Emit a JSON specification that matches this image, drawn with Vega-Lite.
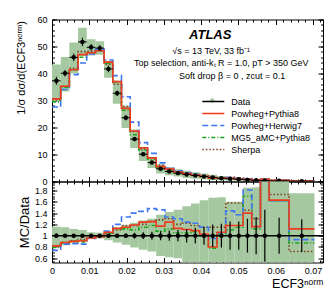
{
"$schema": "https://vega.github.io/schema/vega-lite/v6.json",
"padding": {"left": 14, "top": 14.5, "right": 2, "bottom": 2},
"spacing": 0,
"bounds": "flush",
"config": {
  "view": {"stroke": "#000", "strokeWidth": 1},
  "font": "Liberation Sans",
  "axis": {"grid": false, "domain": false, "labelFont": "Liberation Sans", "labelFontSize": 9, "labelColor": "#000", "tickColor": "#000", "tickWidth": 1, "titleFont": "Liberation Sans", "titleColor": "#000", "titleFontWeight": "normal", "labelFlush": false},
  "text": {"font": "Liberation Sans", "color": "#000"}
},
"datasets": {
  "bins": [
    {"x0": 0, "x1": 0.00233, "xc": 0.00117, "d": 37.3, "elo": 35.8, "ehi": 38.8, "lo": 29.8, "hi": 43.3, "rlo": 0.80, "rhi": 1.16, "slo": 0.96, "shi": 1.04},
    {"x0": 0.00233, "x1": 0.00466, "xc": 0.0035, "d": 40.1, "elo": 38.9, "ehi": 41.3, "lo": 33.3, "hi": 46.1, "rlo": 0.83, "rhi": 1.15, "slo": 0.97, "shi": 1.03},
    {"x0": 0.00466, "x1": 0.00699, "xc": 0.00583, "d": 46.0, "elo": 44.6, "ehi": 47.4, "lo": 40.0, "hi": 51.5, "rlo": 0.87, "rhi": 1.12, "slo": 0.97, "shi": 1.03},
    {"x0": 0.00699, "x1": 0.00932, "xc": 0.00816, "d": 51.7, "elo": 50.15, "ehi": 53.25, "lo": 46.5, "hi": 56.9, "rlo": 0.90, "rhi": 1.10, "slo": 0.97, "shi": 1.03},
    {"x0": 0.00932, "x1": 0.01165, "xc": 0.01049, "d": 49.7, "elo": 48.5, "ehi": 50.9, "lo": 46.7, "hi": 52.7, "rlo": 0.94, "rhi": 1.06, "slo": 0.976, "shi": 1.024},
    {"x0": 0.01165, "x1": 0.01398, "xc": 0.01282, "d": 49.4, "elo": 48.3, "ehi": 50.5, "lo": 46.9, "hi": 51.9, "rlo": 0.95, "rhi": 1.05, "slo": 0.978, "shi": 1.022},
    {"x0": 0.01398, "x1": 0.01631, "xc": 0.01515, "d": 41.7, "elo": 40.45, "ehi": 42.95, "lo": 38.4, "hi": 44.6, "rlo": 0.92, "rhi": 1.07, "slo": 0.97, "shi": 1.03},
    {"x0": 0.01631, "x1": 0.01864, "xc": 0.01748, "d": 32.7, "elo": 31.7, "ehi": 33.7, "lo": 28.8, "hi": 37.0, "rlo": 0.88, "rhi": 1.13, "slo": 0.969, "shi": 1.031},
    {"x0": 0.01864, "x1": 0.02097, "xc": 0.01981, "d": 23.6, "elo": 22.65, "ehi": 24.55, "lo": 19.8, "hi": 28.1, "rlo": 0.84, "rhi": 1.19, "slo": 0.96, "shi": 1.04},
    {"x0": 0.02097, "x1": 0.0233, "xc": 0.02214, "d": 15.7, "elo": 14.9, "ehi": 16.5, "lo": 12.4, "hi": 19.3, "rlo": 0.79, "rhi": 1.23, "slo": 0.95, "shi": 1.05},
    {"x0": 0.0233, "x1": 0.02563, "xc": 0.02447, "d": 10.1, "elo": 9.5, "ehi": 10.7, "lo": 7.6, "hi": 12.8, "rlo": 0.75, "rhi": 1.27, "slo": 0.94, "shi": 1.06},
    {"x0": 0.02563, "x1": 0.02796, "xc": 0.0268, "d": 7.0, "elo": 6.5, "ehi": 7.5, "lo": 5.0, "hi": 9.1, "rlo": 0.72, "rhi": 1.30, "slo": 0.93, "shi": 1.07},
    {"x0": 0.02796, "x1": 0.03029, "xc": 0.02913, "d": 4.7, "elo": 4.32, "ehi": 5.08, "lo": 3.0, "hi": 6.4, "rlo": 0.64, "rhi": 1.37, "slo": 0.92, "shi": 1.08},
    {"x0": 0.03029, "x1": 0.03262, "xc": 0.03146, "d": 3.7, "elo": 3.37, "ehi": 4.03, "lo": 2.3, "hi": 5.25, "rlo": 0.62, "rhi": 1.42, "slo": 0.91, "shi": 1.09},
    {"x0": 0.03262, "x1": 0.03495, "xc": 0.03379, "d": 3.1, "elo": 2.79, "ehi": 3.41, "lo": 1.85, "hi": 4.5, "rlo": 0.60, "rhi": 1.46, "slo": 0.90, "shi": 1.10},
    {"x0": 0.03495, "x1": 0.03728, "xc": 0.03612, "d": 2.6, "elo": 2.29, "ehi": 2.91, "lo": 1.3, "hi": 3.95, "rlo": 0.50, "rhi": 1.52, "slo": 0.88, "shi": 1.12},
    {"x0": 0.03728, "x1": 0.03961, "xc": 0.03845, "d": 2.2, "elo": 1.89, "ehi": 2.51, "lo": 1.0, "hi": 3.45, "rlo": 0.45, "rhi": 1.57, "slo": 0.86, "shi": 1.14},
    {"x0": 0.03961, "x1": 0.04194, "xc": 0.04078, "d": 1.85, "elo": 1.55, "ehi": 2.15, "lo": 0.8, "hi": 3.0, "rlo": 0.42, "rhi": 1.63, "slo": 0.84, "shi": 1.16},
    {"x0": 0.04194, "x1": 0.04427, "xc": 0.04311, "d": 1.5, "elo": 1.2, "ehi": 1.8, "lo": 0.6, "hi": 2.5, "rlo": 0.40, "rhi": 1.67, "slo": 0.80, "shi": 1.20},
    {"x0": 0.04427, "x1": 0.0466, "xc": 0.04544, "d": 1.2, "elo": 0.95, "ehi": 1.45, "lo": 0.5, "hi": 2.0, "rlo": 0.40, "rhi": 1.68, "slo": 0.79, "shi": 1.21},
    {"x0": 0.0466, "x1": 0.04893, "xc": 0.04777, "d": 1.0, "elo": 0.75, "ehi": 1.25, "lo": 0.4, "hi": 1.6, "rlo": 0.40, "rhi": 1.60, "slo": 0.75, "shi": 1.25},
    {"x0": 0.04893, "x1": 0.05126, "xc": 0.0501, "d": 0.8, "elo": 0.6, "ehi": 1.0, "lo": 0.3, "hi": 1.28, "rlo": 0.40, "rhi": 1.60, "slo": 0.75, "shi": 1.25},
    {"x0": 0.05126, "x1": 0.05359, "xc": 0.05243, "d": 0.6, "elo": 0.42, "ehi": 0.78, "lo": 0.24, "hi": 1.1, "rlo": 0.40, "rhi": 1.85, "slo": 0.70, "shi": 1.30},
    {"x0": 0.05359, "x1": 0.05592, "xc": 0.05476, "d": 0.45, "elo": 0.3, "ehi": 0.6, "lo": 0.14, "hi": 0.84, "rlo": 0.30, "rhi": 1.86, "slo": 0.67, "shi": 1.33},
    {"x0": 0.05592, "x1": 0.05825, "xc": 0.05709, "d": 0.35, "elo": 0.19, "ehi": 0.51, "lo": 0.07, "hi": 0.77, "rlo": 0.20, "rhi": 2.2, "slo": 0.54, "shi": 1.46},
    {"x0": 0.05825, "x1": 0.0636, "xc": 0.06093, "d": 0.25, "elo": 0.17, "ehi": 0.33, "lo": 0.05, "hi": 0.55, "rlo": 0.20, "rhi": 2.2, "slo": 0.68, "shi": 1.32},
    {"x0": 0.0636, "x1": 0.0704, "xc": 0.067, "d": 0.12, "elo": 0.085, "ehi": 0.155, "lo": 0.02, "hi": 0.21, "rlo": 0.20, "rhi": 1.75, "slo": 0.71, "shi": 1.29}
  ],
  "mc": [
    {"x": 0, "Powheg+Pythia8": 30.6, "Powheg+Herwig7": 27.6, "MG5_aMC+Pythia8": 29.5, "Sherpa": 30.2},
    {"x": 0.00233, "Powheg+Pythia8": 35.3, "Powheg+Herwig7": 34.1, "MG5_aMC+Pythia8": 34.9, "Sherpa": 35.3},
    {"x": 0.00466, "Powheg+Pythia8": 41.4, "Powheg+Herwig7": 39.6, "MG5_aMC+Pythia8": 41.4, "Sherpa": 41.9},
    {"x": 0.00699, "Powheg+Pythia8": 47.0, "Powheg+Herwig7": 43.9, "MG5_aMC+Pythia8": 46.0, "Sherpa": 48.1},
    {"x": 0.00932, "Powheg+Pythia8": 47.7, "Powheg+Herwig7": 47.2, "MG5_aMC+Pythia8": 47.7, "Sherpa": 48.2},
    {"x": 0.01165, "Powheg+Pythia8": 48.4, "Powheg+Herwig7": 49.0, "MG5_aMC+Pythia8": 48.4, "Sherpa": 48.9},
    {"x": 0.01398, "Powheg+Pythia8": 44.2, "Powheg+Herwig7": 45.0, "MG5_aMC+Pythia8": 43.8, "Sherpa": 43.4},
    {"x": 0.01631, "Powheg+Pythia8": 37.0, "Powheg+Herwig7": 39.2, "MG5_aMC+Pythia8": 37.0, "Sherpa": 36.0},
    {"x": 0.01864, "Powheg+Pythia8": 27.1, "Powheg+Herwig7": 31.4, "MG5_aMC+Pythia8": 26.4, "Sherpa": 27.8},
    {"x": 0.02097, "Powheg+Pythia8": 18.7, "Powheg+Herwig7": 22.0, "MG5_aMC+Pythia8": 17.3, "Sherpa": 18.5},
    {"x": 0.0233, "Powheg+Pythia8": 12.5, "Powheg+Herwig7": 14.4, "MG5_aMC+Pythia8": 11.6, "Sherpa": 12.1},
    {"x": 0.02563, "Powheg+Pythia8": 8.75, "Powheg+Herwig7": 10.4, "MG5_aMC+Pythia8": 8.3, "Sherpa": 8.75},
    {"x": 0.02796, "Powheg+Pythia8": 5.5, "Powheg+Herwig7": 6.9, "MG5_aMC+Pythia8": 5.1, "Sherpa": 6.0},
    {"x": 0.03029, "Powheg+Pythia8": 4.6, "Powheg+Herwig7": 4.9, "MG5_aMC+Pythia8": 4.1, "Sherpa": 4.8},
    {"x": 0.03262, "Powheg+Pythia8": 3.5, "Powheg+Herwig7": 4.0, "MG5_aMC+Pythia8": 3.3, "Sherpa": 3.7},
    {"x": 0.03495, "Powheg+Pythia8": 2.9, "Powheg+Herwig7": 3.2, "MG5_aMC+Pythia8": 2.7, "Sherpa": 3.2},
    {"x": 0.03728, "Powheg+Pythia8": 2.4, "Powheg+Herwig7": 2.7, "MG5_aMC+Pythia8": 2.35, "Sherpa": 2.6},
    {"x": 0.03961, "Powheg+Pythia8": 1.9, "Powheg+Herwig7": 2.1, "MG5_aMC+Pythia8": 1.85, "Sherpa": 2.1},
    {"x": 0.04194, "Powheg+Pythia8": 1.2, "Powheg+Herwig7": 1.4, "MG5_aMC+Pythia8": 1.17, "Sherpa": 1.7},
    {"x": 0.04427, "Powheg+Pythia8": 1.27, "Powheg+Herwig7": 1.26, "MG5_aMC+Pythia8": 1.24, "Sherpa": 1.4},
    {"x": 0.0466, "Powheg+Pythia8": 1.18, "Powheg+Herwig7": 1.44, "MG5_aMC+Pythia8": 1.1, "Sherpa": 1.58},
    {"x": 0.04893, "Powheg+Pythia8": 0.94, "Powheg+Herwig7": 1.1, "MG5_aMC+Pythia8": 0.92, "Sherpa": 1.26},
    {"x": 0.05126, "Powheg+Pythia8": 0.84, "Powheg+Herwig7": 1.09, "MG5_aMC+Pythia8": 1.02, "Sherpa": 0.87},
    {"x": 0.05359, "Powheg+Pythia8": 0.52, "Powheg+Herwig7": 0.52, "MG5_aMC+Pythia8": 0.5, "Sherpa": 0.59},
    {"x": 0.05592, "Powheg+Pythia8": 0.8, "Powheg+Herwig7": 0.8, "MG5_aMC+Pythia8": 0.8, "Sherpa": 0.8},
    {"x": 0.05825, "Powheg+Pythia8": 0.41, "Powheg+Herwig7": 0.41, "MG5_aMC+Pythia8": 0.41, "Sherpa": 0.43},
    {"x": 0.0636, "Powheg+Pythia8": 0.13, "Powheg+Herwig7": 0.11, "MG5_aMC+Pythia8": 0.1, "Sherpa": 0.09},
    {"x": 0.0704, "Powheg+Pythia8": 0.13, "Powheg+Herwig7": 0.11, "MG5_aMC+Pythia8": 0.1, "Sherpa": 0.09}
  ],
  "mcr": [
    {"x": 0, "Powheg+Pythia8": 0.82, "Powheg+Herwig7": 0.74, "MG5_aMC+Pythia8": 0.79, "Sherpa": 0.81},
    {"x": 0.00233, "Powheg+Pythia8": 0.88, "Powheg+Herwig7": 0.85, "MG5_aMC+Pythia8": 0.87, "Sherpa": 0.88},
    {"x": 0.00466, "Powheg+Pythia8": 0.90, "Powheg+Herwig7": 0.86, "MG5_aMC+Pythia8": 0.90, "Sherpa": 0.91},
    {"x": 0.00699, "Powheg+Pythia8": 0.91, "Powheg+Herwig7": 0.85, "MG5_aMC+Pythia8": 0.89, "Sherpa": 0.93},
    {"x": 0.00932, "Powheg+Pythia8": 0.96, "Powheg+Herwig7": 0.95, "MG5_aMC+Pythia8": 0.96, "Sherpa": 0.97},
    {"x": 0.01165, "Powheg+Pythia8": 0.98, "Powheg+Herwig7": 0.99, "MG5_aMC+Pythia8": 0.98, "Sherpa": 0.99},
    {"x": 0.01398, "Powheg+Pythia8": 1.06, "Powheg+Herwig7": 1.08, "MG5_aMC+Pythia8": 1.05, "Sherpa": 1.04},
    {"x": 0.01631, "Powheg+Pythia8": 1.13, "Powheg+Herwig7": 1.20, "MG5_aMC+Pythia8": 1.13, "Sherpa": 1.10},
    {"x": 0.01864, "Powheg+Pythia8": 1.15, "Powheg+Herwig7": 1.33, "MG5_aMC+Pythia8": 1.12, "Sherpa": 1.18},
    {"x": 0.02097, "Powheg+Pythia8": 1.19, "Powheg+Herwig7": 1.40, "MG5_aMC+Pythia8": 1.10, "Sherpa": 1.18},
    {"x": 0.0233, "Powheg+Pythia8": 1.24, "Powheg+Herwig7": 1.43, "MG5_aMC+Pythia8": 1.15, "Sherpa": 1.20},
    {"x": 0.02563, "Powheg+Pythia8": 1.25, "Powheg+Herwig7": 1.48, "MG5_aMC+Pythia8": 1.18, "Sherpa": 1.25},
    {"x": 0.02796, "Powheg+Pythia8": 1.17, "Powheg+Herwig7": 1.46, "MG5_aMC+Pythia8": 1.08, "Sherpa": 1.28},
    {"x": 0.03029, "Powheg+Pythia8": 1.24, "Powheg+Herwig7": 1.33, "MG5_aMC+Pythia8": 1.12, "Sherpa": 1.30},
    {"x": 0.03262, "Powheg+Pythia8": 1.13, "Powheg+Herwig7": 1.30, "MG5_aMC+Pythia8": 1.05, "Sherpa": 1.20},
    {"x": 0.03495, "Powheg+Pythia8": 1.11, "Powheg+Herwig7": 1.24, "MG5_aMC+Pythia8": 1.05, "Sherpa": 1.22},
    {"x": 0.03728, "Powheg+Pythia8": 1.09, "Powheg+Herwig7": 1.22, "MG5_aMC+Pythia8": 1.07, "Sherpa": 1.18},
    {"x": 0.03961, "Powheg+Pythia8": 1.03, "Powheg+Herwig7": 1.15, "MG5_aMC+Pythia8": 1.0, "Sherpa": 1.15},
    {"x": 0.04194, "Powheg+Pythia8": 0.80, "Powheg+Herwig7": 0.95, "MG5_aMC+Pythia8": 0.78, "Sherpa": 1.15},
    {"x": 0.04427, "Powheg+Pythia8": 1.06, "Powheg+Herwig7": 1.05, "MG5_aMC+Pythia8": 1.03, "Sherpa": 1.15},
    {"x": 0.0466, "Powheg+Pythia8": 1.18, "Powheg+Herwig7": 1.44, "MG5_aMC+Pythia8": 1.10, "Sherpa": 1.58},
    {"x": 0.04893, "Powheg+Pythia8": 1.18, "Powheg+Herwig7": 1.37, "MG5_aMC+Pythia8": 1.15, "Sherpa": 1.58},
    {"x": 0.05126, "Powheg+Pythia8": 1.40, "Powheg+Herwig7": 1.81, "MG5_aMC+Pythia8": 1.70, "Sherpa": 1.45},
    {"x": 0.05359, "Powheg+Pythia8": 1.16, "Powheg+Herwig7": 1.16, "MG5_aMC+Pythia8": 1.12, "Sherpa": 1.30},
    {"x": 0.05592, "Powheg+Pythia8": 2.3, "Powheg+Herwig7": 2.3, "MG5_aMC+Pythia8": 2.3, "Sherpa": 2.3},
    {"x": 0.05825, "Powheg+Pythia8": 1.63, "Powheg+Herwig7": 1.62, "MG5_aMC+Pythia8": 1.62, "Sherpa": 1.73},
    {"x": 0.0636, "Powheg+Pythia8": 1.12, "Powheg+Herwig7": 0.93, "MG5_aMC+Pythia8": 0.87, "Sherpa": 0.72},
    {"x": 0.0704, "Powheg+Pythia8": 1.12, "Powheg+Herwig7": 0.93, "MG5_aMC+Pythia8": 0.87, "Sherpa": 0.72}
  ]
},
"vconcat": [
  {
    "width": 271, "height": 162,
    "resolve": {"axis": {"x": "independent", "y": "independent"}},
    "layer": [
      {"data": {"name": "bins"}, "mark": {"type": "rect", "clip": true},
       "encoding": {
         "x": {"field": "x0", "type": "quantitative", "scale": {"domain": [0, 0.0727], "nice": false, "zero": false},
               "axis": {"orient": "bottom", "values": [0,0.01,0.02,0.03,0.04,0.05,0.06,0.07], "labels": false, "tickSize": -5, "title": null}},
         "x2": {"field": "x1"},
         "y": {"field": "lo", "type": "quantitative", "scale": {"domain": [0, 60], "nice": false, "zero": false},
               "axis": {"orient": "left", "values": [0,10,20,30,40,50,60], "format": "d", "tickSize": -5, "labelPadding": 10,
                        "title": "1/σ dσ/d(ECF3ⁿᵒʳᵐ)", "titleFontSize": 11, "titleAngle": -90, "titleX": -26, "titleY": 1, "titleAlign": "right", "titleBaseline": "bottom"}},
         "y2": {"field": "hi"},
         "fill": {"datum": "Data", "type": "nominal", "scale": {"domain": ["Data"], "range": ["#a5c8a0"]},
                  "legend": {"orient": "none", "legendX": 154.8, "legendY": 75.5, "title": null, "symbolType": "M-2,-0.55H2V0.55H-2Z", "symbolSize": 121, "symbolStrokeWidth": 0, "symbolOpacity": 1, "labelExpr": "''", "labelOffset": 11.5, "labelFontSize": 9, "padding": 0, "zindex": 0}}
       }},
      {"data": {"name": "mc"},
       "transform": [{"fold": ["Sherpa", "MG5_aMC+Pythia8", "Powheg+Herwig7", "Powheg+Pythia8"], "as": ["gen", "v"]}],
       "mark": {"type": "line", "interpolate": "step-after", "clip": true, "strokeWidth": 1.6},
       "encoding": {
         "x": {"field": "x", "type": "quantitative",
               "axis": {"orient": "bottom", "values": [0,0.002,0.004,0.006,0.008,0.01,0.012,0.014,0.016,0.018,0.02,0.022,0.024,0.026,0.028,0.03,0.032,0.034,0.036,0.038,0.04,0.042,0.044,0.046,0.048,0.05,0.052,0.054,0.056,0.058,0.06,0.062,0.064,0.066,0.068,0.07,0.072], "labels": false, "tickSize": -2.5, "title": null}},
         "y": {"field": "v", "type": "quantitative",
               "axis": {"orient": "left", "values": [0,2,4,6,8,10,12,14,16,18,20,22,24,26,28,30,32,34,36,38,40,42,44,46,48,50,52,54,56,58,60], "labels": false, "tickSize": -2.5, "title": null}},
         "color": {"field": "gen", "type": "nominal",
                   "scale": {"domain": ["Data", "Powheg+Pythia8", "Powheg+Herwig7", "MG5_aMC+Pythia8", "Sherpa"], "range": ["#000000", "#ee3b1e", "#3f77f2", "#1ea51e", "#7d3c1c"]},
                   "legend": {"orient": "none", "legendX": 154.8, "legendY": 75.5, "title": null, "symbolType": "M-2,0H2", "symbolSize": 121, "symbolStrokeWidth": 1.6, "labelFontSize": 9, "labelFont": "Liberation Sans", "labelColor": "#000", "labelOffset": 11.5, "rowPadding": 0, "padding": 0, "zindex": 1}},
         "strokeDash": {"field": "gen", "type": "nominal",
                        "scale": {"domain": ["Data", "Powheg+Pythia8", "Powheg+Herwig7", "MG5_aMC+Pythia8", "Sherpa"], "range": [[1,0],[1,0],[6,3],[4,2,1,2],[1.5,2]]},
                        "legend": {"orient": "none", "legendX": 154.8, "legendY": 75.5, "title": null, "symbolType": "M-2,0H2", "symbolSize": 121, "symbolStrokeWidth": 1.6, "labelFontSize": 9, "labelFont": "Liberation Sans", "labelColor": "#000", "labelOffset": 11.5, "rowPadding": 0, "padding": 0, "zindex": 1}}
       }},
      {"data": {"name": "bins"}, "mark": {"type": "rule", "color": "#000", "strokeWidth": 1, "clip": true},
       "encoding": {
         "x": {"field": "xc", "type": "quantitative", "axis": {"orient": "top", "values": [0,0.01,0.02,0.03,0.04,0.05,0.06,0.07], "labels": false, "tickSize": -5, "title": null}},
         "y": {"field": "elo", "type": "quantitative", "axis": {"orient": "right", "values": [0,10,20,30,40,50,60], "labels": false, "tickSize": -5, "title": null}},
         "y2": {"field": "ehi"}
       }},
      {"data": {"name": "bins"}, "mark": {"type": "rule", "color": "#000", "strokeWidth": 1, "clip": true},
       "encoding": {
         "x": {"field": "x0", "type": "quantitative", "axis": null},
         "x2": {"field": "x1"},
         "y": {"field": "d", "type": "quantitative", "axis": null}
       }},
      {"data": {"name": "bins"}, "mark": {"type": "point", "filled": true, "color": "#000", "size": 20, "opacity": 1, "clip": true},
       "encoding": {
         "x": {"field": "xc", "type": "quantitative", "axis": {"orient": "top", "values": [0,0.002,0.004,0.006,0.008,0.01,0.012,0.014,0.016,0.018,0.02,0.022,0.024,0.026,0.028,0.03,0.032,0.034,0.036,0.038,0.04,0.042,0.044,0.046,0.048,0.05,0.052,0.054,0.056,0.058,0.06,0.062,0.064,0.066,0.068,0.07,0.072], "labels": false, "tickSize": -2.5, "title": null}},
         "y": {"field": "d", "type": "quantitative", "axis": {"orient": "right", "values": [0,2,4,6,8,10,12,14,16,18,20,22,24,26,28,30,32,34,36,38,40,42,44,46,48,50,52,54,56,58,60], "labels": false, "tickSize": -2.5, "title": null}}
       }},
      {"data": {"values": [{}]}, "mark": {"type": "point", "filled": true, "color": "#000", "opacity": 0},
       "encoding": {
         "x": {"datum": 0.03, "type": "quantitative", "axis": null},
         "y": {"datum": 30, "type": "quantitative", "axis": null},
         "shape": {"datum": "Data", "type": "nominal", "scale": {"domain": ["Data"], "range": ["M-0.4,0A0.4,0.4,0,1,0,0.4,0A0.4,0.4,0,1,0,-0.4,0"]},
                   "legend": {"orient": "none", "legendX": 154.8, "legendY": 75.5, "title": null, "symbolSize": 121, "symbolOpacity": 1, "symbolFillColor": "#000", "symbolStrokeWidth": 0, "labelExpr": "''", "labelOffset": 11.5, "labelFontSize": 9, "padding": 0, "zindex": 2}}
       }},
      {"data": {"values": [{}]}, "mark": {"type": "text", "text": "ATLAS", "fontSize": 13, "fontWeight": "bold", "fontStyle": "italic", "align": "center", "baseline": "middle"},
       "encoding": {"x": {"datum": 0.04244, "type": "quantitative", "axis": null}, "y": {"datum": 54.1, "type": "quantitative", "axis": null}}},
      {"data": {"values": [{}]}, "mark": {"type": "text", "text": "√s = 13 TeV, 33 fb⁻¹", "fontSize": 9, "align": "center", "baseline": "middle"},
       "encoding": {"x": {"datum": 0.04271, "type": "quantitative", "axis": null}, "y": {"datum": 48.4, "type": "quantitative", "axis": null}}},
      {"data": {"values": [{}]}, "mark": {"type": "text", "text": "Top selection, anti-kₜ R = 1.0, pT > 350 GeV", "fontSize": 9, "align": "center", "baseline": "middle"},
       "encoding": {"x": {"datum": 0.04539, "type": "quantitative", "axis": null}, "y": {"datum": 43.9, "type": "quantitative", "axis": null}}},
      {"data": {"values": [{}]}, "mark": {"type": "text", "text": "Soft drop β = 0 , zcut = 0.1", "fontSize": 9, "align": "center", "baseline": "middle"},
       "encoding": {"x": {"datum": 0.04834, "type": "quantitative", "axis": null}, "y": {"datum": 38.9, "type": "quantitative", "axis": null}}}
    ]
  },
  {
    "width": 271, "height": 81,
    "resolve": {"axis": {"x": "independent", "y": "independent"}},
    "layer": [
      {"data": {"name": "bins"}, "mark": {"type": "rect", "color": "#a5c8a0", "clip": true},
       "encoding": {
         "x": {"field": "x0", "type": "quantitative", "scale": {"domain": [0, 0.0727], "nice": false, "zero": false},
               "axis": {"orient": "bottom", "values": [0,0.01,0.02,0.03,0.04,0.05,0.06,0.07], "format": "~g", "tickSize": -5, "labelPadding": 9,
                        "title": "ECF3ⁿᵒʳᵐ", "titleFontSize": 12.5, "titleX": 271, "titleY": 25, "titleAlign": "right", "titleBaseline": "alphabetic"}},
         "x2": {"field": "x1"},
         "y": {"field": "rlo", "type": "quantitative", "scale": {"domain": [0.525, 1.96], "nice": false, "zero": false},
               "axis": {"orient": "left", "values": [0.6,0.8,1,1.2,1.4,1.6,1.8], "format": "~g", "tickSize": -5, "labelPadding": 10,
                        "title": "MC/Data", "titleFontSize": 13, "titleAngle": -90, "titleX": -20.7, "titleY": 40.5, "titleAlign": "center", "titleBaseline": "bottom"}},
         "y2": {"field": "rhi"}
       }},
      {"data": {"name": "mcr"},
       "transform": [{"fold": ["Sherpa", "MG5_aMC+Pythia8", "Powheg+Herwig7", "Powheg+Pythia8"], "as": ["gen", "v"]}],
       "mark": {"type": "line", "interpolate": "step-after", "clip": true, "strokeWidth": 1.6},
       "encoding": {
         "x": {"field": "x", "type": "quantitative",
               "axis": {"orient": "bottom", "values": [0,0.002,0.004,0.006,0.008,0.01,0.012,0.014,0.016,0.018,0.02,0.022,0.024,0.026,0.028,0.03,0.032,0.034,0.036,0.038,0.04,0.042,0.044,0.046,0.048,0.05,0.052,0.054,0.056,0.058,0.06,0.062,0.064,0.066,0.068,0.07,0.072], "labels": false, "tickSize": -2.5, "title": null}},
         "y": {"field": "v", "type": "quantitative",
               "axis": {"orient": "left", "values": [0.55,0.6,0.65,0.7,0.75,0.8,0.85,0.9,0.95,1,1.05,1.1,1.15,1.2,1.25,1.3,1.35,1.4,1.45,1.5,1.55,1.6,1.65,1.7,1.75,1.8,1.85,1.9,1.95], "labels": false, "tickSize": -2.5, "title": null}},
         "color": {"field": "gen", "type": "nominal", "legend": null},
         "strokeDash": {"field": "gen", "type": "nominal", "legend": null}
       }},
      {"data": {"values": [{}]}, "mark": {"type": "rule", "color": "#000", "strokeWidth": 1.6},
       "encoding": {"y": {"datum": 1, "type": "quantitative", "axis": null}}},
      {"data": {"name": "bins"}, "mark": {"type": "rule", "color": "#000", "strokeWidth": 1.2, "clip": true},
       "encoding": {
         "x": {"field": "xc", "type": "quantitative", "axis": {"orient": "top", "values": [0,0.01,0.02,0.03,0.04,0.05,0.06,0.07], "labels": false, "tickSize": -5, "title": null}},
         "y": {"field": "slo", "type": "quantitative", "axis": {"orient": "right", "values": [0.6,0.8,1,1.2,1.4,1.6,1.8], "labels": false, "tickSize": -5, "title": null}},
         "y2": {"field": "shi"}
       }},
      {"data": {"name": "bins"}, "mark": {"type": "point", "filled": true, "color": "#000", "size": 20, "opacity": 1, "clip": true},
       "encoding": {
         "x": {"field": "xc", "type": "quantitative", "axis": {"orient": "top", "values": [0,0.002,0.004,0.006,0.008,0.01,0.012,0.014,0.016,0.018,0.02,0.022,0.024,0.026,0.028,0.03,0.032,0.034,0.036,0.038,0.04,0.042,0.044,0.046,0.048,0.05,0.052,0.054,0.056,0.058,0.06,0.062,0.064,0.066,0.068,0.07,0.072], "labels": false, "tickSize": -2.5, "title": null}},
         "y": {"datum": 1, "type": "quantitative", "axis": {"orient": "right", "values": [0.55,0.6,0.65,0.7,0.75,0.8,0.85,0.9,0.95,1,1.05,1.1,1.15,1.2,1.25,1.3,1.35,1.4,1.45,1.5,1.55,1.6,1.65,1.7,1.75,1.8,1.85,1.9,1.95], "labels": false, "tickSize": -2.5, "title": null}}
       }}
    ]
  }
]
}
